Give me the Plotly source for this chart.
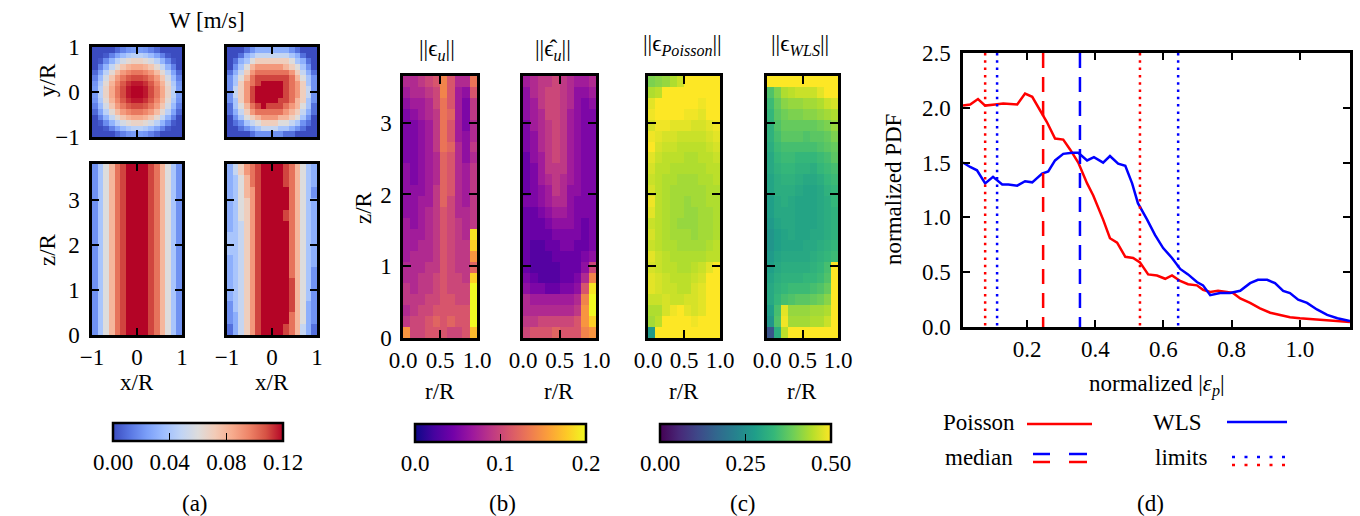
import plotly.graph_objects as go

W, H = 1360, 516
FONT = "Liberation Serif"
FS = 23

# ---------------------------------------------------------------- data
# (a) axial velocity W in cm/s (converted to m/s below); rows listed top to bottom
w_model_xy = [
    [0, 0, 0, 0, 0.8, 1.5, 2.1, 2.3, 2.3, 2.1, 1.5, 0.8, 0, 0, 0, 0],
    [0, 0, 0.4, 1.5, 2.6, 3.5, 4.2, 4.6, 4.6, 4.2, 3.5, 2.6, 1.5, 0.4, 0, 0],
    [0, 0.4, 1.8, 3.2, 4.6, 5.6, 6.3, 6.7, 6.7, 6.3, 5.6, 4.6, 3.2, 1.8, 0.4, 0],
    [0, 1.5, 3.2, 4.9, 6.3, 7.4, 8.1, 8.5, 8.5, 8.1, 7.4, 6.3, 4.9, 3.2, 1.5, 0],
    [0.8, 2.6, 4.6, 6.3, 7.8, 8.9, 9.5, 9.9, 9.9, 9.5, 8.9, 7.8, 6.3, 4.6, 2.6, 0.8],
    [1.5, 3.5, 5.6, 7.4, 8.9, 9.9, 10.6, 10.9, 10.9, 10.6, 9.9, 8.9, 7.4, 5.6, 3.5, 1.5],
    [2.1, 4.2, 6.3, 8.1, 9.5, 10.6, 11.3, 11.7, 11.7, 11.3, 10.6, 9.5, 8.1, 6.3, 4.2, 2.1],
    [2.3, 4.6, 6.7, 8.5, 9.9, 10.9, 11.7, 12.0, 12.0, 11.7, 10.9, 9.9, 8.5, 6.7, 4.6, 2.3],
    [2.3, 4.6, 6.7, 8.5, 9.9, 10.9, 11.7, 12.0, 12.0, 11.7, 10.9, 9.9, 8.5, 6.7, 4.6, 2.3],
    [2.1, 4.2, 6.3, 8.1, 9.5, 10.6, 11.3, 11.7, 11.7, 11.3, 10.6, 9.5, 8.1, 6.3, 4.2, 2.1],
    [1.5, 3.5, 5.6, 7.4, 8.9, 9.9, 10.6, 10.9, 10.9, 10.6, 9.9, 8.9, 7.4, 5.6, 3.5, 1.5],
    [0.8, 2.6, 4.6, 6.3, 7.8, 8.9, 9.5, 9.9, 9.9, 9.5, 8.9, 7.8, 6.3, 4.6, 2.6, 0.8],
    [0, 1.5, 3.2, 4.9, 6.3, 7.4, 8.1, 8.5, 8.5, 8.1, 7.4, 6.3, 4.9, 3.2, 1.5, 0],
    [0, 0.4, 1.8, 3.2, 4.6, 5.6, 6.3, 6.7, 6.7, 6.3, 5.6, 4.6, 3.2, 1.8, 0.4, 0],
    [0, 0, 0.4, 1.5, 2.6, 3.5, 4.2, 4.6, 4.6, 4.2, 3.5, 2.6, 1.5, 0.4, 0, 0],
    [0, 0, 0, 0, 0.8, 1.5, 2.1, 2.3, 2.3, 2.1, 1.5, 0.8, 0, 0, 0, 0],
]
w_piv_xy = [
    [0, 0, 0, 1, 2, 3, 3, 3, 3, 3, 3, 2, 1, 0, 0, 0],
    [0, 0, 1, 3, 4, 5, 5, 5, 5, 5, 5, 4, 3, 1, 0, 0],
    [0, 1, 3, 4, 6, 7, 7, 7, 7, 7, 7, 6, 4, 3, 1, 0],
    [0, 2, 4, 6, 8, 9, 9, 9, 9, 9, 8, 7, 6, 4, 2, 0],
    [1, 3, 5, 7, 9, 10, 10, 10, 10, 10, 10, 9, 7, 5, 3, 1],
    [2, 4, 6, 8, 10, 11, 11, 11, 11, 11, 11, 10, 8, 6, 4, 2],
    [2, 4, 7, 9, 10, 11, 13, 13, 13, 12, 11, 10, 9, 7, 4, 2],
    [2, 5, 7, 9, 11, 13, 13, 13, 13, 12, 11, 10, 9, 7, 5, 2],
    [2, 5, 7, 9, 11, 13, 13, 13, 13, 12, 11, 10, 9, 7, 5, 2],
    [2, 4, 7, 9, 11, 12, 12, 12, 12, 11, 11, 10, 8, 7, 4, 2],
    [1, 4, 6, 8, 10, 11, 12, 11, 11, 11, 10, 9, 8, 6, 4, 1],
    [1, 3, 5, 7, 9, 10, 10, 10, 10, 10, 9, 8, 7, 5, 3, 1],
    [0, 2, 4, 6, 7, 8, 9, 9, 9, 8, 8, 7, 6, 4, 2, 0],
    [0, 1, 2, 4, 5, 6, 7, 7, 7, 6, 6, 5, 4, 2, 1, 0],
    [0, 0, 1, 2, 3, 4, 5, 5, 5, 4, 4, 3, 2, 1, 0, 0],
    [0, 0, 0, 0, 1, 2, 2, 2, 2, 2, 1, 1, 0, 0, 0, 0],
]
# model profile across the jet (uniform along z)
w_model_profile = [2, 4, 6, 8, 10, 11, 12, 12, 12, 12, 11, 10, 8, 6, 4, 2]
w_piv_xz = [
    [3, 5, 7, 9, 10, 11, 12, 12, 12, 12, 11, 10, 8, 6, 4, 3],
    [3, 4, 6, 8, 10, 11, 12, 12, 12, 12, 11, 10, 8, 6, 4, 3],
    [3, 4, 6, 8, 9, 11, 12, 12, 12, 12, 12, 10, 8, 6, 4, 2],
    [3, 4, 6, 7, 9, 11, 12, 12, 12, 12, 12, 10, 8, 6, 4, 3],
    [3, 4, 6, 7, 9, 11, 12, 12, 12, 12, 11, 10, 8, 6, 4, 3],
    [3, 4, 5, 7, 9, 11, 12, 12, 12, 12, 12, 10, 8, 6, 4, 3],
    [4, 4, 5, 7, 9, 11, 12, 12, 12, 12, 12, 10, 8, 6, 4, 3],
    [4, 4, 5, 7, 9, 11, 12, 12, 12, 12, 12, 10, 8, 6, 4, 3],
    [3, 4, 5, 7, 9, 11, 12, 12, 12, 12, 12, 10, 8, 6, 4, 3],
    [3, 4, 5, 7, 9, 11, 12, 12, 12, 12, 12, 10, 8, 6, 4, 2],
    [3, 4, 5, 7, 9, 11, 12, 12, 12, 12, 12, 11, 8, 6, 4, 2],
    [3, 4, 5, 7, 9, 11, 12, 12, 12, 12, 12, 11, 8, 6, 4, 2],
    [2, 4, 5, 7, 9, 11, 12, 12, 12, 12, 12, 11, 8, 6, 3, 2],
    [2, 3, 5, 7, 9, 11, 12, 12, 12, 12, 12, 10, 8, 6, 3, 2],
    [1, 3, 5, 7, 9, 11, 12, 12, 12, 12, 11, 10, 8, 5, 3, 1],
]

# (b) velocity error norms, in units of 0.01; rows top (z max) to bottom (z = 0)
eps_u = [
    [8, 8, 9, 10, 11, 14, 11, 8, 8, 13],
    [7, 8, 8, 9, 10, 14, 11, 7, 6, 11],
    [6, 7, 7, 8, 10, 13, 11, 7, 5, 9],
    [5, 6, 7, 8, 9, 13, 12, 7, 5, 9],
    [5, 5, 6, 7, 9, 13, 11, 7, 5, 8],
    [5, 5, 6, 7, 9, 13, 11, 7, 6, 8],
    [5, 5, 6, 7, 9, 13, 12, 8, 6, 9],
    [5, 5, 6, 7, 8, 12, 11, 8, 6, 8],
    [6, 5, 6, 7, 8, 12, 11, 8, 7, 9],
    [6, 5, 6, 7, 8, 12, 11, 8, 7, 9],
    [6, 6, 6, 7, 9, 12, 11, 8, 7, 9],
    [6, 6, 7, 7, 9, 12, 10, 8, 7, 9],
    [6, 6, 7, 8, 9, 11, 10, 8, 8, 9],
    [7, 6, 7, 8, 9, 11, 10, 9, 8, 9],
    [7, 7, 7, 8, 9, 11, 10, 9, 8, 19],
    [7, 7, 8, 8, 9, 11, 10, 9, 9, 18],
    [7, 8, 8, 8, 9, 11, 10, 9, 9, 15],
    [8, 8, 8, 9, 9, 11, 10, 9, 9, 12],
    [8, 8, 9, 9, 10, 11, 10, 10, 9, 18],
    [9, 8, 9, 9, 10, 11, 10, 10, 10, 20],
    [9, 9, 9, 10, 10, 11, 11, 10, 10, 20],
    [8, 9, 10, 10, 11, 11, 11, 11, 11, 20],
    [9, 10, 10, 11, 12, 11, 12, 11, 11, 20],
    [15, 10, 10, 11, 11, 11, 10, 10, 11, 17],
]
eps_u_hat = [
    [7, 8, 9, 9, 10, 9, 8, 7, 7, 8],
    [6, 8, 9, 10, 10, 9, 8, 6, 6, 7],
    [6, 7, 9, 10, 10, 9, 8, 6, 5, 6],
    [6, 7, 8, 10, 10, 9, 7, 6, 5, 5],
    [5, 7, 8, 9, 10, 9, 7, 6, 5, 5],
    [5, 6, 8, 9, 10, 9, 7, 6, 5, 5],
    [5, 6, 8, 9, 10, 9, 7, 6, 5, 5],
    [4, 6, 7, 9, 10, 9, 7, 6, 5, 5],
    [4, 5, 7, 9, 9, 9, 7, 6, 5, 5],
    [4, 5, 7, 8, 9, 8, 7, 6, 5, 5],
    [4, 5, 6, 7, 9, 8, 6, 6, 5, 5],
    [5, 5, 6, 7, 8, 8, 6, 5, 5, 5],
    [4, 4, 5, 6, 7, 7, 6, 5, 5, 5],
    [4, 4, 4, 5, 6, 6, 6, 5, 4, 5],
    [4, 4, 4, 4, 5, 5, 5, 5, 4, 5],
    [4, 3, 3, 4, 4, 5, 5, 4, 4, 5],
    [4, 3, 3, 3, 4, 4, 4, 4, 5, 6],
    [4, 3, 3, 3, 3, 4, 4, 4, 6, 10],
    [5, 4, 3, 3, 3, 4, 4, 5, 8, 14],
    [6, 5, 5, 4, 4, 5, 5, 6, 11, 19],
    [8, 7, 7, 7, 7, 7, 7, 8, 14, 20],
    [8, 8, 8, 8, 8, 8, 8, 9, 15, 20],
    [9, 9, 10, 10, 10, 10, 10, 11, 15, 18],
    [10, 11, 11, 11, 12, 11, 11, 11, 14, 15],
]

# (c) pressure error norms, in units of 0.01; rows top to bottom
eps_poisson = [
    [40, 41, 42, 44, 46, 50, 50, 50, 50, 50],
    [44, 45, 50, 50, 50, 50, 50, 50, 50, 50],
    [48, 50, 50, 50, 50, 50, 50, 49, 50, 50],
    [49, 50, 50, 50, 50, 49, 49, 48, 50, 50],
    [47, 49, 49, 48, 48, 48, 47, 47, 48, 49],
    [49, 48, 47, 47, 46, 46, 46, 46, 47, 48],
    [50, 47, 46, 46, 45, 45, 45, 45, 46, 47],
    [48, 46, 45, 45, 45, 44, 44, 45, 45, 46],
    [47, 45, 45, 44, 44, 44, 44, 44, 45, 45],
    [46, 45, 44, 44, 43, 43, 43, 44, 44, 45],
    [47, 45, 44, 43, 43, 43, 43, 43, 44, 44],
    [49, 45, 44, 43, 43, 42, 43, 43, 44, 44],
    [48, 45, 44, 43, 43, 42, 42, 43, 43, 44],
    [46, 45, 44, 43, 42, 42, 42, 43, 43, 44],
    [47, 45, 44, 43, 43, 43, 42, 43, 43, 44],
    [46, 45, 44, 44, 43, 43, 43, 43, 44, 45],
    [48, 46, 45, 44, 44, 44, 44, 44, 45, 45],
    [47, 46, 45, 45, 44, 44, 45, 46, 48, 50],
    [48, 47, 46, 45, 45, 45, 46, 47, 50, 50],
    [48, 47, 46, 46, 45, 45, 47, 48, 50, 50],
    [46, 46, 47, 46, 46, 47, 47, 48, 50, 50],
    [44, 44, 47, 49, 50, 48, 47, 48, 50, 50],
    [43, 45, 50, 50, 50, 50, 49, 50, 50, 50],
    [27, 50, 50, 50, 50, 50, 50, 50, 50, 50],
]
eps_wls = [
    [50, 50, 50, 50, 50, 50, 50, 50, 50, 50],
    [36, 40, 44, 45, 46, 46, 46, 48, 50, 50],
    [34, 38, 41, 42, 42, 43, 43, 44, 46, 47],
    [33, 37, 39, 40, 40, 41, 41, 42, 43, 44],
    [32, 36, 38, 38, 38, 38, 38, 39, 40, 42],
    [32, 35, 37, 37, 37, 36, 37, 37, 38, 40],
    [31, 34, 35, 35, 35, 35, 35, 36, 37, 38],
    [30, 33, 34, 34, 33, 33, 33, 34, 35, 37],
    [30, 32, 33, 33, 32, 32, 31, 33, 34, 35],
    [29, 31, 32, 32, 31, 30, 30, 31, 33, 34],
    [29, 31, 31, 31, 30, 29, 29, 30, 32, 33],
    [28, 30, 31, 30, 29, 29, 29, 30, 31, 33],
    [28, 30, 30, 30, 29, 29, 29, 30, 31, 32],
    [27, 29, 30, 30, 29, 29, 29, 30, 31, 32],
    [26, 28, 29, 30, 29, 29, 30, 30, 31, 32],
    [26, 28, 29, 29, 29, 30, 30, 31, 32, 33],
    [27, 29, 30, 30, 30, 30, 31, 32, 33, 34],
    [28, 30, 31, 31, 31, 31, 32, 33, 35, 50],
    [29, 31, 32, 32, 32, 33, 33, 34, 36, 50],
    [30, 32, 33, 34, 34, 34, 35, 36, 38, 50],
    [30, 33, 35, 36, 37, 37, 38, 39, 41, 50],
    [28, 35, 48, 42, 42, 42, 43, 43, 44, 50],
    [26, 36, 49, 43, 43, 43, 44, 44, 46, 50],
    [13, 31, 45, 50, 50, 50, 50, 50, 50, 50],
]

# (d) normalized PDFs of the pressure error
poisson_eps = [0.012, 0.033, 0.056, 0.077, 0.106, 0.130, 0.171, 0.194, 0.215, 0.238,
               0.258, 0.282, 0.306, 0.326, 0.350, 0.376, 0.394, 0.423, 0.443, 0.464,
               0.488, 0.511, 0.531, 0.555, 0.581, 0.605, 0.625, 0.649, 0.672, 0.698,
               0.716, 0.737, 0.760, 0.786, 0.804, 0.825, 0.854, 0.883, 0.913, 0.942,
               0.971, 1.000, 1.040, 1.080, 1.110, 1.147]
poisson_pdf = [2.02, 2.03, 2.08, 2.02, 2.03, 2.04, 2.03, 2.13, 2.10, 1.98,
               1.87, 1.72, 1.71, 1.62, 1.50, 1.31, 1.20, 0.98, 0.81, 0.77,
               0.64, 0.63, 0.59, 0.48, 0.47, 0.44, 0.47, 0.42, 0.39, 0.38,
               0.34, 0.32, 0.33, 0.32, 0.31, 0.26, 0.22, 0.17, 0.13, 0.11,
               0.09, 0.08, 0.07, 0.06, 0.05, 0.045]
wls_eps = [0.012, 0.033, 0.053, 0.077, 0.100, 0.127, 0.145, 0.171, 0.194, 0.215,
           0.244, 0.262, 0.282, 0.306, 0.332, 0.350, 0.376, 0.396, 0.423, 0.443,
           0.467, 0.488, 0.508, 0.525, 0.552, 0.575, 0.599, 0.625, 0.649, 0.672,
           0.698, 0.716, 0.737, 0.766, 0.795, 0.825, 0.854, 0.877, 0.904, 0.927,
           0.951, 0.971, 0.995, 1.021, 1.050, 1.080, 1.110, 1.147]
wls_pdf = [1.50, 1.46, 1.43, 1.31, 1.37, 1.30, 1.30, 1.29, 1.33, 1.32,
           1.40, 1.42, 1.52, 1.58, 1.59, 1.59, 1.52, 1.55, 1.50, 1.56,
           1.49, 1.47, 1.31, 1.13, 0.98, 0.84, 0.72, 0.63, 0.53, 0.48,
           0.41, 0.38, 0.29, 0.31, 0.31, 0.33, 0.40, 0.43, 0.43, 0.40,
           0.33, 0.31, 0.25, 0.22, 0.16, 0.11, 0.08, 0.055]
poisson_median = 0.247
wls_median = 0.355
poisson_limits = [0.077, 0.531]
wls_limits = [0.112, 0.643]

RED = "#ff0000"
BLUE = "#0000ff"

COOLWARM = [
    [0.0, "#3b4cc0"], [0.1, "#5977e3"], [0.2, "#7b9ff9"], [0.3, "#9ebeff"],
    [0.4, "#c0d4f5"], [0.5, "#dddcdc"], [0.6, "#f2cbb7"], [0.7, "#f7ac8e"],
    [0.8, "#ee8468"], [0.9, "#d65244"], [1.0, "#b40426"],
]


def fx(px):
    return px / W


def fy(py):
    return 1 - py / H


def scaled(rows, factor):
    # rows are listed top to bottom; plotly wants bottom row first
    return [[v * factor for v in row] for row in rows[::-1]]


fig = go.Figure()

# ---------------------------------------------------------------- heatmaps
n_xy = 16
dxy = 2.0 / n_xy
z_top_a = 3.8
n_z_a = len(w_piv_xz)
w_model_xz = [w_model_profile for _ in range(n_z_a)]

heat_specs = [
    # (rows, factor, x0, dx, y0, dy, axis index, coloraxis)
    (w_model_xy, 0.01, -1 + dxy / 2, dxy, -1 + dxy / 2, dxy, 1, "coloraxis"),
    (w_piv_xy, 0.01, -1 + dxy / 2, dxy, -1 + dxy / 2, dxy, 2, "coloraxis"),
    (w_model_xz, 0.01, -1 + dxy / 2, dxy, z_top_a / n_z_a / 2, z_top_a / n_z_a, 3, "coloraxis"),
    (w_piv_xz, 0.01, -1 + dxy / 2, dxy, z_top_a / n_z_a / 2, z_top_a / n_z_a, 4, "coloraxis"),
]
z_top_b = 3.65
n_r, n_z_b = 10, len(eps_u)
for rows, idx, cax in [(eps_u, 5, "coloraxis2"), (eps_u_hat, 6, "coloraxis2"),
                       (eps_poisson, 7, "coloraxis3"), (eps_wls, 8, "coloraxis3")]:
    heat_specs.append((rows, 0.01, 0.5 / n_r, 1.0 / n_r,
                       z_top_b / n_z_b / 2, z_top_b / n_z_b, idx, cax))

for rows, factor, x0, dx, y0, dy, idx, cax in heat_specs:
    sfx = "" if idx == 1 else str(idx)
    fig.add_trace(go.Heatmap(
        z=scaled(rows, factor), x0=x0, dx=dx, y0=y0, dy=dy,
        xaxis="x" + sfx, yaxis="y" + sfx, coloraxis=cax, hoverinfo="skip",
    ))

# ---------------------------------------------------------------- PDF curves
fig.add_trace(go.Scatter(x=poisson_eps, y=poisson_pdf, mode="lines", xaxis="x9", yaxis="y9",
                         line=dict(color=RED, width=2.5), showlegend=False))
fig.add_trace(go.Scatter(x=wls_eps, y=wls_pdf, mode="lines", xaxis="x9", yaxis="y9",
                         line=dict(color=BLUE, width=2.5), showlegend=False))
for val, col, dash in [(poisson_median, RED, "15px,9px"), (wls_median, BLUE, "15px,9px")] + \
        [(v, RED, "2.5px,4.8px") for v in poisson_limits] + \
        [(v, BLUE, "2.5px,4.8px") for v in wls_limits]:
    fig.add_trace(go.Scatter(x=[val, val], y=[2.5, 0.0], mode="lines", xaxis="x9", yaxis="y9",
                             line=dict(color=col, width=2.5, dash=dash), showlegend=False))

# ---------------------------------------------------------------- axes
tickfont = dict(family=FONT, size=FS, color="black")


def frame(**kw):
    d = dict(showline=True, linewidth=2.5, linecolor="black", mirror="ticks",
             ticks="inside", ticklen=7, tickwidth=1.5, tickcolor="black",
             showgrid=False, zeroline=False, tickfont=tickfont, tickangle=0,
             automargin=False)
    d.update(kw)
    return d


# pixel boxes: (left, right, top, bottom)
boxes = {
    1: (92, 182, 47, 137), 2: (227, 317, 47, 137),
    3: (92, 182, 164, 335), 4: (227, 317, 164, 335),
    5: (403, 477, 76, 338), 6: (523, 596, 76, 338),
    7: (648, 720, 76, 338), 8: (767, 838, 76, 338),
    9: (963, 1350, 53, 327),
}
layout_axes = {}
for idx, (l, r, t, b) in boxes.items():
    sfx = "" if idx == 1 else str(idx)
    xd = dict(domain=[fx(l), fx(r)], anchor="y" + sfx)
    yd = dict(domain=[fy(b), fy(t)], anchor="x" + sfx)
    if idx in (1, 2):
        xd.update(frame(range=[-1, 1], tickvals=[-1, 0, 1], showticklabels=False))
        yd.update(frame(range=[-1, 1], tickvals=[-1, 0, 1], showticklabels=(idx == 1),
                        ticklabelstandoff=5))
    elif idx in (3, 4):
        xd.update(frame(range=[-1, 1], tickvals=[-1, 0, 1], ticklabelstandoff=0))
        yd.update(frame(range=[0, z_top_a], tickvals=[0, 1, 2, 3], showticklabels=(idx == 3),
                        ticklabelstandoff=5))
    elif idx in (5, 6, 7, 8):
        xd.update(frame(range=[0, 1], tickvals=[0, 0.5, 1], ticktext=["0.0", "0.5", "1.0"],
                        ticklabelstandoff=0, ticklen=8))
        yd.update(frame(range=[0, z_top_b], tickvals=[0, 1, 2, 3], showticklabels=(idx == 5),
                        ticklabelstandoff=4, ticklen=8))
    else:
        xd.update(frame(range=[0.012, 1.147], tickvals=[0.2, 0.4, 0.6, 0.8, 1.0],
                        ticktext=["0.2", "0.4", "0.6", "0.8", "1.0"], ticklabelstandoff=0))
        yd.update(frame(range=[0, 2.5], tickvals=[0, 0.5, 1.0, 1.5, 2.0, 2.5],
                        ticktext=["0.0", "0.5", "1.0", "1.5", "2.0", "2.5"],
                        ticklabelstandoff=5))
    layout_axes["xaxis" + sfx] = xd
    layout_axes["yaxis" + sfx] = yd


def colorbar(left, right, top, ticks, fmt):
    return dict(orientation="h", x=fx((left + right) / 2), xanchor="center",
                y=fy(top), yanchor="top", len=(right - left) / W, lenmode="fraction",
                thickness=18, thicknessmode="pixels", outlinewidth=2.5, outlinecolor="black",
                ticks="inside", ticklen=9, tickwidth=1.2, tickcolor="black",
                tickvals=ticks, tickformat=fmt, tickfont=tickfont, xpad=0, ypad=0)


fig.update_layout(
    width=W, height=H, margin=dict(l=0, r=0, t=0, b=0, pad=0, autoexpand=False),
    paper_bgcolor="white", plot_bgcolor="white", showlegend=False,
    font=dict(family=FONT, size=FS, color="black"),
    coloraxis=dict(colorscale=COOLWARM, cmin=0, cmax=0.12,
                   colorbar=colorbar(113, 283, 423, [0, 0.04, 0.08, 0.12], ".2f")),
    coloraxis2=dict(colorscale="Plasma", cmin=0, cmax=0.2,
                    colorbar=colorbar(415, 586, 424, [0, 0.1, 0.2], ".1f")),
    coloraxis3=dict(colorscale="Viridis", cmin=0, cmax=0.5,
                    colorbar=colorbar(660, 831, 424, [0, 0.25, 0.5], ".2f")),
    **layout_axes,
)


# ---------------------------------------------------------------- text
def label(text, px, py, angle=0, size=FS, anchor="center"):
    fig.add_annotation(text=text, x=fx(px), y=fy(py), xref="paper", yref="paper",
                       showarrow=False, xanchor=anchor, yanchor="middle", textangle=angle,
                       font=dict(family=FONT, size=size, color="black"))


label("W [m/s]", 207, 21)
label("y/R", 47, 80, angle=-90)
label("z/R", 47, 250, angle=-90)
label("x/R", 137, 382)
label("x/R", 272, 382)
label("||ϵ<sub><i>u</i></sub>||", 437, 50)
label("||ϵ̂<sub><i>u</i></sub>||", 553, 50)
label("||ϵ<sub><i>Poisson</i></sub>||", 682, 45)
label("||ϵ<sub><i>WLS</i></sub>||", 800, 45)
label("z/R", 363, 208, angle=-90)
for cx in (440, 559, 684, 802):
    label("r/R", cx, 391)
label("normalized PDF", 893, 190, angle=-90)
label("normalized |<i>ε</i><sub><i>p</i></sub>|", 1157, 385)
label("(a)", 195, 503)
label("(b)", 502, 503)
label("(c)", 743, 503)
label("(d)", 1150, 503)

# legend of panel (d)
label("Poisson", 979, 422)
label("WLS", 1177, 422)
label("median", 979, 457)
label("limits", 1181, 457)


def seg(x0, x1, py, color, dash="solid"):
    fig.add_shape(type="line", xref="paper", yref="paper", x0=fx(x0), x1=fx(x1),
                  y0=fy(py), y1=fy(py), line=dict(color=color, width=2.5, dash=dash))


seg(1027, 1092, 424, RED)
seg(1227, 1287, 422, BLUE)
for a, b in [(1033, 1050), (1069, 1087)]:
    seg(a, b, 454, BLUE)
    seg(a, b, 462, RED)
seg(1232, 1286, 457, BLUE, "3px,9.5px")
seg(1232, 1286, 465, RED, "3px,9.5px")

fig.write_html("out.html")
